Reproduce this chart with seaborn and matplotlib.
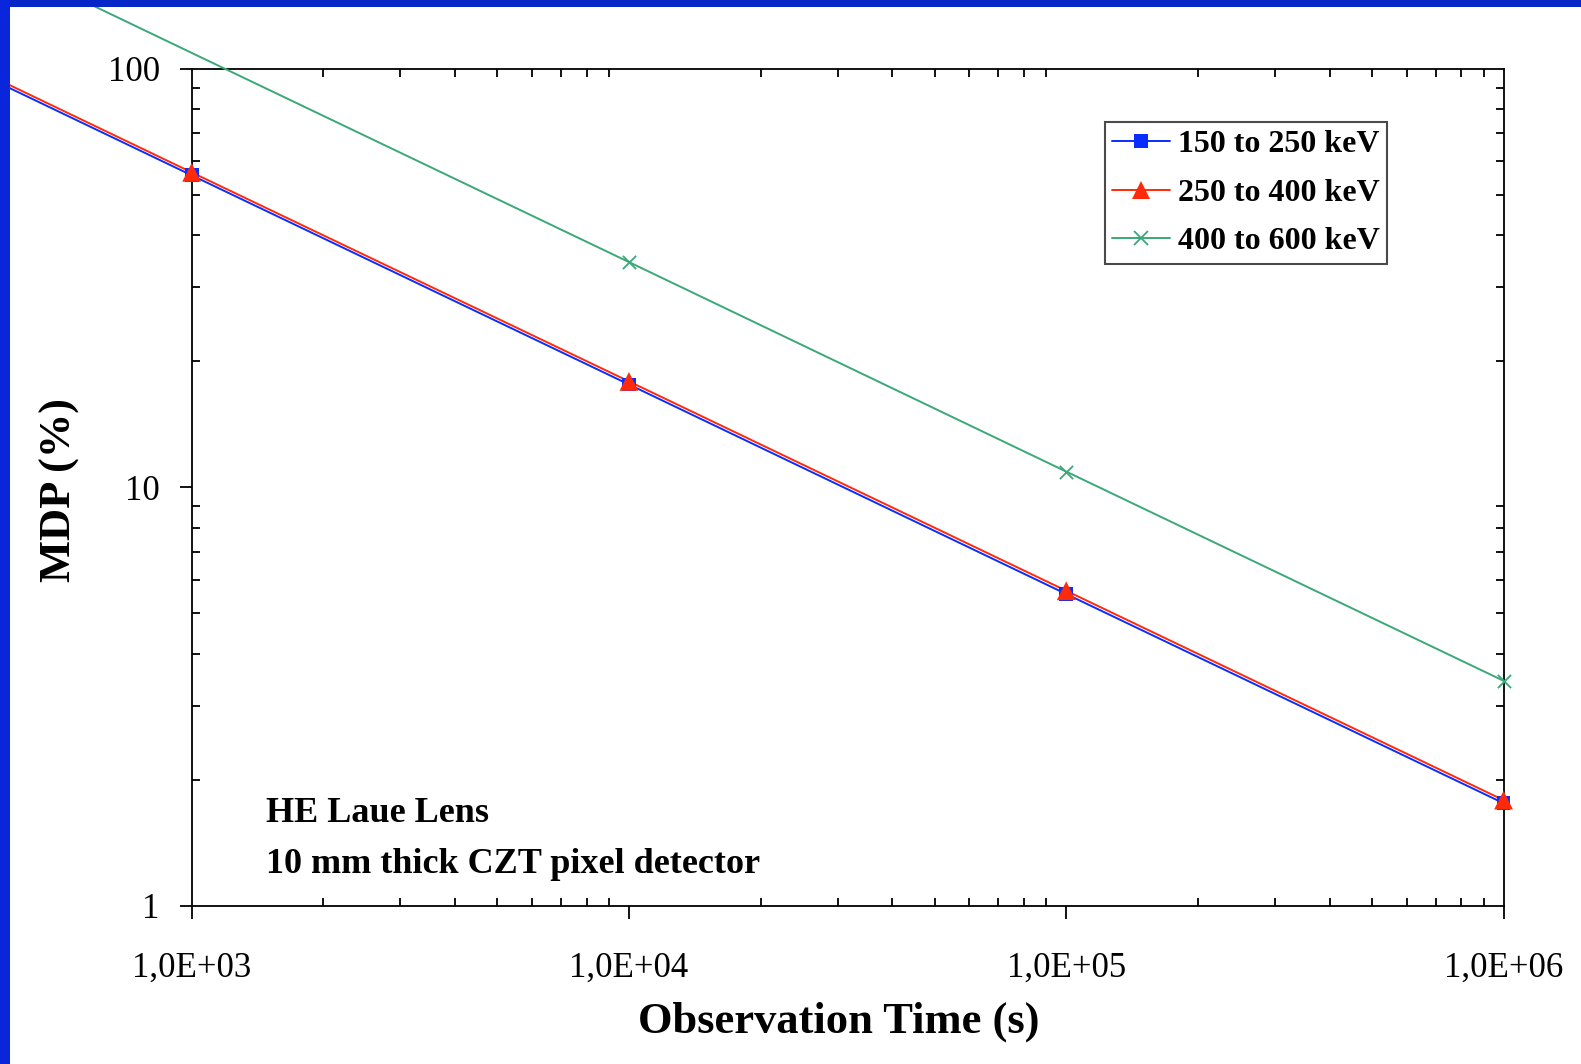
import matplotlib
matplotlib.use("Agg")
import matplotlib.pyplot as plt
import numpy as np
import pandas as pd
import seaborn as sns
from matplotlib.lines import Line2D
from matplotlib.patches import Rectangle
from matplotlib.ticker import FixedLocator, FuncFormatter, LogLocator, NullFormatter

# Minimum detectable polarization versus observation time, per energy band
time_s = [1e2, 1e3, 1e4, 1e5, 1e6]
mdp_150_250 = [176.0, 55.6, 17.6, 5.56, 1.76]
mdp_250_400 = [179.0, 56.5, 17.9, 5.66, 1.79]
mdp_400_600 = [345.0, 109.0, 34.5, 10.9, 3.45]

series_labels = ["150 to 250 keV", "250 to 400 keV", "400 to 600 keV"]
x_tick_values = [1e3, 1e4, 1e5, 1e6]
x_tick_labels = ["1,0E+03", "1,0E+04", "1,0E+05", "1,0E+06"]
y_tick_values = [1, 10, 100]
y_tick_labels = ["1", "10", "100"]
note_lines = ["HE Laue Lens", "10 mm thick CZT pixel detector"]

colors = ["#0a2dff", "#ff2a0a", "#3ba878"]
markers = ["s", "^", "x"]
marker_sizes = [10.0, 13.5, 9.5]

sns.set_style("white")
plt.rcParams["font.family"] = ["Liberation Serif", "DejaVu Serif"]
plt.rcParams["text.color"] = "black"
plt.rcParams["axes.labelcolor"] = "black"
plt.rcParams["xtick.color"] = "black"
plt.rcParams["ytick.color"] = "black"

df = pd.DataFrame({
    "time": time_s * 3,
    "mdp": mdp_150_250 + mdp_250_400 + mdp_400_600,
    "band": [lab for lab in series_labels for _ in time_s],
})

fig = plt.figure(figsize=(15.81, 10.64), dpi=100)
ax = fig.add_axes([0.1212, 0.1485, 0.8298, 0.7871])
ax.set_xscale("log")
ax.set_yscale("log")

for label, color, marker, ms in zip(series_labels, colors, markers, marker_sizes):
    sub = df[df["band"] == label]
    sns.lineplot(data=sub, x="time", y="mdp", color=color, lw=1.4, ax=ax,
                 clip_on=False, zorder=3, legend=False)
    inside = sub[(sub["time"] >= 1e3) & (sub["mdp"] >= 1) & (sub["mdp"] <= 100)]
    if marker == "x":
        sns.scatterplot(data=inside, x="time", y="mdp", marker=marker, s=ms ** 2,
                        color=color, linewidth=1.3, ax=ax, clip_on=False,
                        zorder=4, legend=False)
    else:
        sns.scatterplot(data=inside, x="time", y="mdp", marker=marker, s=ms ** 2,
                        color=color, edgecolor="none", linewidth=0, ax=ax,
                        clip_on=False, zorder=4, legend=False)

ax.set_xlim(1e3, 1e6)
ax.set_ylim(1, 100)
ax.set_xlabel("")
ax.set_ylabel("")

ax.xaxis.set_major_locator(FixedLocator(x_tick_values))
ax.xaxis.set_major_formatter(FuncFormatter(
    lambda v, p: x_tick_labels[x_tick_values.index(v)] if v in x_tick_values else ""))
ax.yaxis.set_major_locator(FixedLocator(y_tick_values))
ax.yaxis.set_major_formatter(FuncFormatter(
    lambda v, p: y_tick_labels[y_tick_values.index(v)] if v in y_tick_values else ""))
ax.xaxis.set_minor_locator(LogLocator(base=10, subs=range(2, 10), numticks=20))
ax.yaxis.set_minor_locator(LogLocator(base=10, subs=range(2, 10), numticks=20))
ax.xaxis.set_minor_formatter(NullFormatter())
ax.yaxis.set_minor_formatter(NullFormatter())

ax.tick_params(which="major", direction="out", length=9, width=1.3,
               labelsize=25, colors="black", labelcolor="black",
               bottom=True, left=True, top=False, right=False)
ax.tick_params(axis="x", which="major", pad=24)
ax.tick_params(axis="y", which="major", pad=14)
ax.tick_params(which="minor", direction="in", length=6, width=1.3, colors="black",
               top=True, right=True, bottom=True, left=True)

for side in ["left", "bottom", "top", "right"]:
    ax.spines[side].set_visible(True)
    ax.spines[side].set_color("black")
    ax.spines[side].set_linewidth(1.3)

fig.text(839 / 1581, 1 - 1033 / 1064, "Observation Time (s)", fontsize=32,
         fontweight="bold", ha="center", va="baseline", color="black")
fig.text(60 / 1581, 1 - 490 / 1064, "MDP (%)", fontsize=32, fontweight="bold",
         ha="center", va="center", rotation=90, color="black")

fig.text(266 / 1581, 1 - 822 / 1064, note_lines[0], fontsize=26,
         fontweight="bold", ha="left", va="baseline", color="black")
fig.text(266 / 1581, 1 - 873 / 1064, note_lines[1], fontsize=26,
         fontweight="bold", ha="left", va="baseline", color="black")

handles = []
for label, color, marker, ms in zip(series_labels, colors, markers, marker_sizes):
    if marker == "x":
        h = Line2D([], [], color=color, lw=1.4, marker=marker, markersize=ms,
                   markeredgewidth=1.3)
    else:
        h = Line2D([], [], color=color, lw=1.4, marker=marker, markersize=ms,
                   markeredgewidth=0)
    handles.append(h)

leg = fig.legend(handles, series_labels, loc="upper left",
                 bbox_to_anchor=(1104.7 / 1581, 1 - 122.3 / 1064),
                 borderaxespad=0, numpoints=1, handlelength=1.8,
                 handletextpad=0.25, labelspacing=0.6, borderpad=0.24,
                 prop={"family": "Liberation Serif", "weight": "bold", "size": 23},
                 fancybox=False, framealpha=1)
leg.get_frame().set_edgecolor("#4a4a4a")
leg.get_frame().set_linewidth(1.5)
for t in leg.get_texts():
    t.set_color("black")

# Slide frame bars along the top and left edges
fig.patches.append(Rectangle((0, 1 - 7 / 1064), 1, 7 / 1064, transform=fig.transFigure,
                             facecolor="#0626c8", edgecolor="none", zorder=10))
fig.patches.append(Rectangle((0, 0), 10 / 1581, 1, transform=fig.transFigure,
                             facecolor="#0a26dc", edgecolor="none", zorder=10))

fig.savefig("out.png", dpi=100)
